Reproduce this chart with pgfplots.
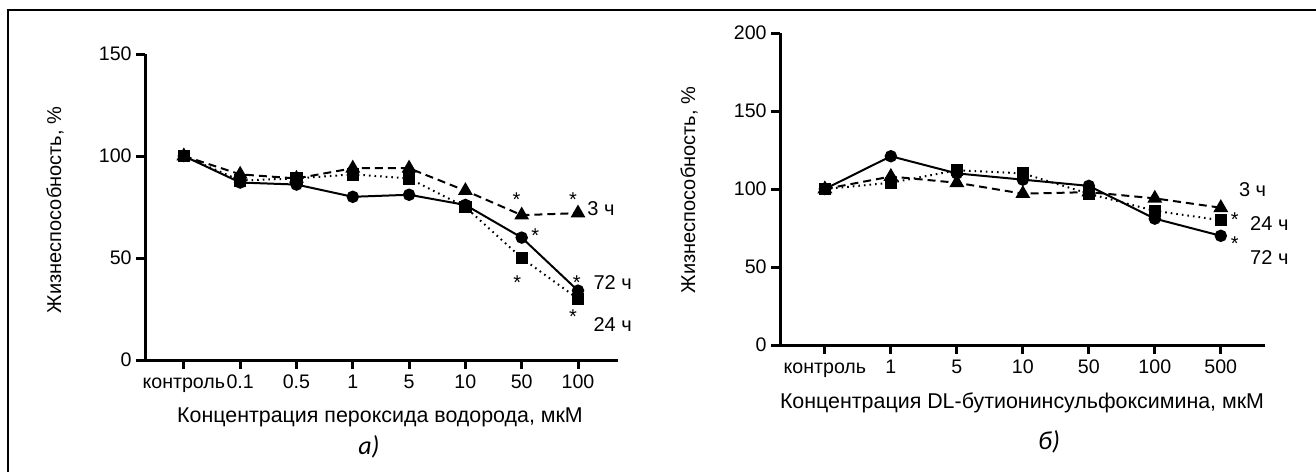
\documentclass[border=0pt]{standalone}
\usepackage{pgfplots}
\pgfplotsset{compat=1.18}
\usepackage{fontspec}
\setmainfont{Liberation Sans}
\newfontfamily\capfont{Carlito}

\pgfplotsset{
  myaxis/.style={
    scale only axis,
    axis lines*=left,
    axis line style={line width=1.5pt,-},
    tick align=outside,
    major tick length=4.5pt,
    tick style={line width=1.5pt,black},
    ymin=0,
    tick label style={font=\fontsize{9.8}{10}\selectfont},
    x tick label style={text height=7.2pt, text depth=2pt, inner ysep=2.5pt},
    y tick label style={inner xsep=2pt},
    /pgf/number format/assume math mode=true,
    clip=false,
  },
}
\tikzset{
  s72/.style={black, line width=1pt, mark=*, mark size=2.6pt, mark options={solid}},
  s3/.style={black, line width=1pt, dash pattern=on 4pt off 2.5pt, mark=triangle*, mark size=3.3pt, mark options={solid}},
  s24/.style={black, line width=1pt, dash pattern=on 0.8pt off 2pt, mark=square*, mark size=2.6pt, mark options={solid}},
  ast/.style={font=\fontsize{10}{10}\selectfont, inner sep=0pt, anchor=center, yshift=-2.2pt},
  slab/.style={font=\fontsize{10}{10}\selectfont, inner sep=0pt, anchor=west},
}

\begin{document}
\begin{tikzpicture}
\path[use as bounding box] (0,0) rectangle (658pt,-235.5pt);
\draw[line width=1.3pt] (4pt,-236pt) -- (4pt,-5pt) -- (659pt,-5pt);

% ---------- panel a ----------
\begin{axis}[myaxis, at={(72.5pt,-180pt)}, anchor=south west,
  width=236.5pt, height=153pt,
  xmin=-0.69, xmax=7.71, ymax=150, ytick={0,50,100,150},
  xtick={0,...,7}, xticklabels={контроль,0.1,0.5,1,5,10,50,100}]
\addplot[s3] coordinates {(0,100) (1,91) (2,89) (3,94) (4,94) (5,83) (6,71) (7,72)};
\addplot[s72] coordinates {(0,100) (1,87) (2,86) (3,80) (4,81) (5,76) (6,60) (7,34)};
\addplot[s24] coordinates {(0,100) (1,88) (2,89) (3,91) (4,89) (5,75) (6,50) (7,30)};
\node[ast] at (axis cs:5.91,80.7) {*};
\node[ast] at (axis cs:6.24,63) {*};
\node[ast] at (axis cs:5.92,40) {*};
\node[ast] at (axis cs:6.91,80.7) {*};
\node[ast] at (axis cs:6.98,40) {*};
\node[ast] at (axis cs:6.91,23.6) {*};
\node[slab] at (axis cs:7.16,74.3) {3 ч};
\node[slab] at (axis cs:7.27,37.9) {72 ч};
\node[slab] at (axis cs:7.27,17.2) {24 ч};
\end{axis}

% ---------- panel b ----------
\begin{axis}[myaxis, at={(390pt,-172.5pt)}, anchor=south west,
  width=242.5pt, height=156pt,
  xmin=-0.68, xmax=6.67, ymax=200, ytick={0,50,100,150,200},
  xtick={0,...,6}, xticklabels={контроль,1,5,10,50,100,500}]
\addplot[s3] coordinates {(0,100) (1,108) (2,104) (3,97) (4,98) (5,94) (6,88)};
\addplot[s72] coordinates {(0,100) (1,121) (2,110) (3,106) (4,102) (5,81) (6,70)};
\addplot[s24] coordinates {(0,100) (1,104) (2,112) (3,110) (4,97) (5,86) (6,80)};
\node[ast] at (axis cs:6.21,83.3) {*};
\node[ast] at (axis cs:6.21,68) {*};
\node[slab] at (axis cs:6.27,99.4) {3 ч};
\node[slab] at (axis cs:6.44,78) {24 ч};
\node[slab] at (axis cs:6.44,56.4) {72 ч};
\end{axis}

% labels
\node[rotate=90, font=\fontsize{10}{12}\selectfont] at (27.5pt,-105pt) {Жизнеспособность, \%};
\node[rotate=90, font=\fontsize{10}{12}\selectfont] at (344.5pt,-95pt) {Жизнеспособность, \%};
\node[font=\fontsize{10.7}{12}\selectfont] at (190pt,-208.5pt) {Концентрация пероксида водорода, мкМ};
\node[font=\fontsize{10.7}{12}\selectfont] at (511pt,-201.5pt) {Концентрация DL-бутионинсульфоксимина, мкМ};
\node[font=\capfont\itshape\fontsize{13}{14}\selectfont] at (184.5pt,-223.5pt) {а)};
\node[font=\capfont\itshape\fontsize{13}{14}\selectfont] at (524.5pt,-221pt) {б)};
\end{tikzpicture}
\end{document}
